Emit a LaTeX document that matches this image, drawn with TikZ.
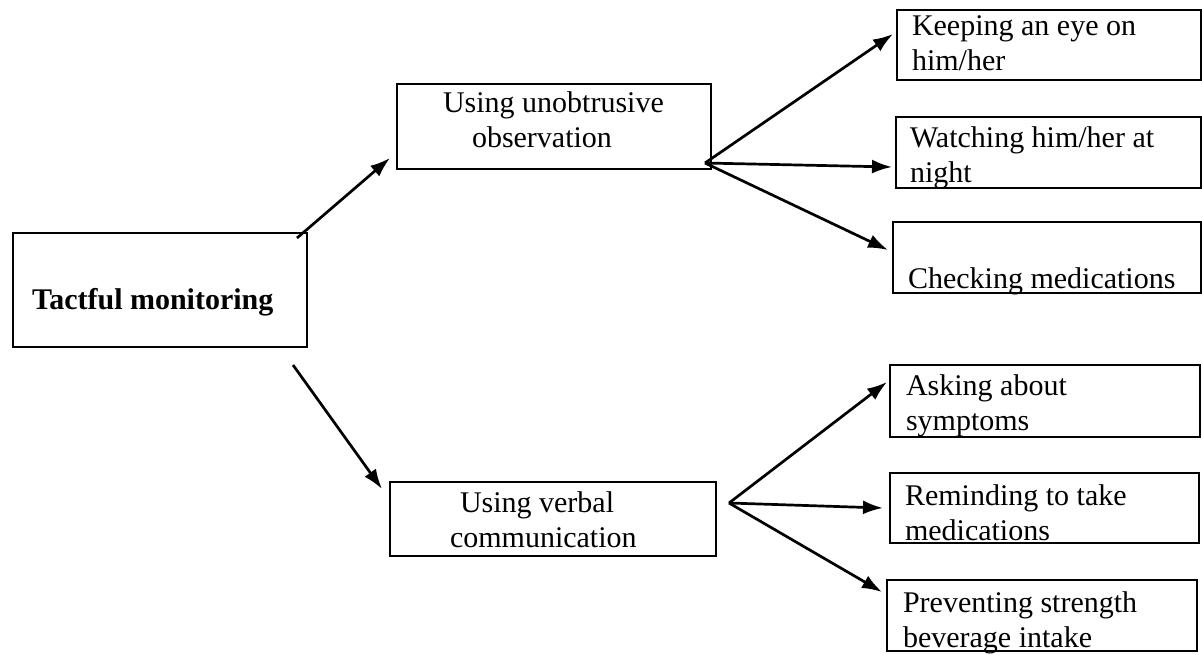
\documentclass[tikz,border=0pt]{standalone}
\usepackage{fontspec}
\setmainfont{Liberation Serif}
\usetikzlibrary{arrows.meta,calc}

% two-line label whose baseline is that of its first line
\newcommand\twoln[2]{\begin{tabular}[t]{@{}l@{}}#1\\#2\end{tabular}}

\tikzset{
  box/.style={draw, line width=2.4pt, inner sep=0pt, outer sep=0pt,
              anchor=north west, minimum width=#1},
  txt/.style={anchor=base west, inner sep=0pt, outer sep=0pt,
              font=\fontsize{30}{35}\selectfont},
  arr/.style={line width=2.7pt, -{Latex[length=20pt,width=14pt]}},
}

\begin{document}
\begin{tikzpicture}[x=1pt, y=-1pt]
\useasboundingbox (0,0) rectangle (1202,654);

% boxes
\node[box=294pt, minimum height=114pt] (tm) at (13,233) {};
\node[box=314pt, minimum height=85pt]  (uo) at (397,84) {};
\node[box=326pt, minimum height=74pt]  (vc) at (390,482) {};
\node[box=304pt, minimum height=70pt]  (k1) at (897,10) {};
\node[box=305pt, minimum height=71pt]  (k2) at (896,117) {};
\node[box=308pt, minimum height=71pt]  (k3) at (893,222) {};
\node[box=310pt, minimum height=72pt]  (k4) at (890,365) {};
\node[box=309pt, minimum height=70pt]  (k5) at (890,473) {};
\node[box=310pt, minimum height=71pt]  (k6) at (887,580) {};

% labels
\node[txt, font=\fontsize{30}{35}\selectfont\bfseries] (tm-t) at (32,309) {Tactful monitoring};
\node[txt] (uo-t) at (443,112) {\twoln{Using unobtrusive}{\hspace{29pt}observation}};
\node[txt] (vc-t) at (450,512) {\twoln{\hspace{10pt}Using verbal}{communication}};
\node[txt] (k1-t) at (912,35)  {\twoln{Keeping an eye on}{him/her}};
\node[txt] (k2-t) at (910,147) {\twoln{Watching him/her at}{night}};
\node[txt] (k3-t) at (908,288) {Checking medications};
\node[txt] (k4-t) at (906,395) {\twoln{Asking about}{symptoms}};
\node[txt] (k5-t) at (905,505) {\twoln{Reminding to take}{medications}};
\node[txt] (k6-t) at (903,612) {\twoln{Preventing strength}{beverage intake}};

% fan origins
\coordinate (uo-fan) at ($(uo.south east)+(-6,-6)$);
\coordinate (vc-fan) at ($(vc.north east)+(13,21)$);

% connectors
\draw[arr] ($(tm.north east)+(-10,5)$) -- ($(uo.south west)+(-7,-11)$);
\draw[arr] ($(tm.south east)+(-14,18)$) -- ($(vc.north west)+(-8,7)$);

\draw[arr] (uo-fan) -- ($(k1.west)+(-4,-11)$);
\draw[arr] (uo-fan) -- ($(k2.west)+(-4,14.5)$);
\draw[arr] (uo-fan) -- ($(k3.west)+(-5,-7.5)$);

\draw[arr] (vc-fan) -- ($(k4.west)+(-3,-19)$);
\draw[arr] (vc-fan) -- ($(k5.west)+(-7,0)$);
\draw[arr] (vc-fan) -- ($(k6.north west)+(-5,12)$);
\end{tikzpicture}
\end{document}
